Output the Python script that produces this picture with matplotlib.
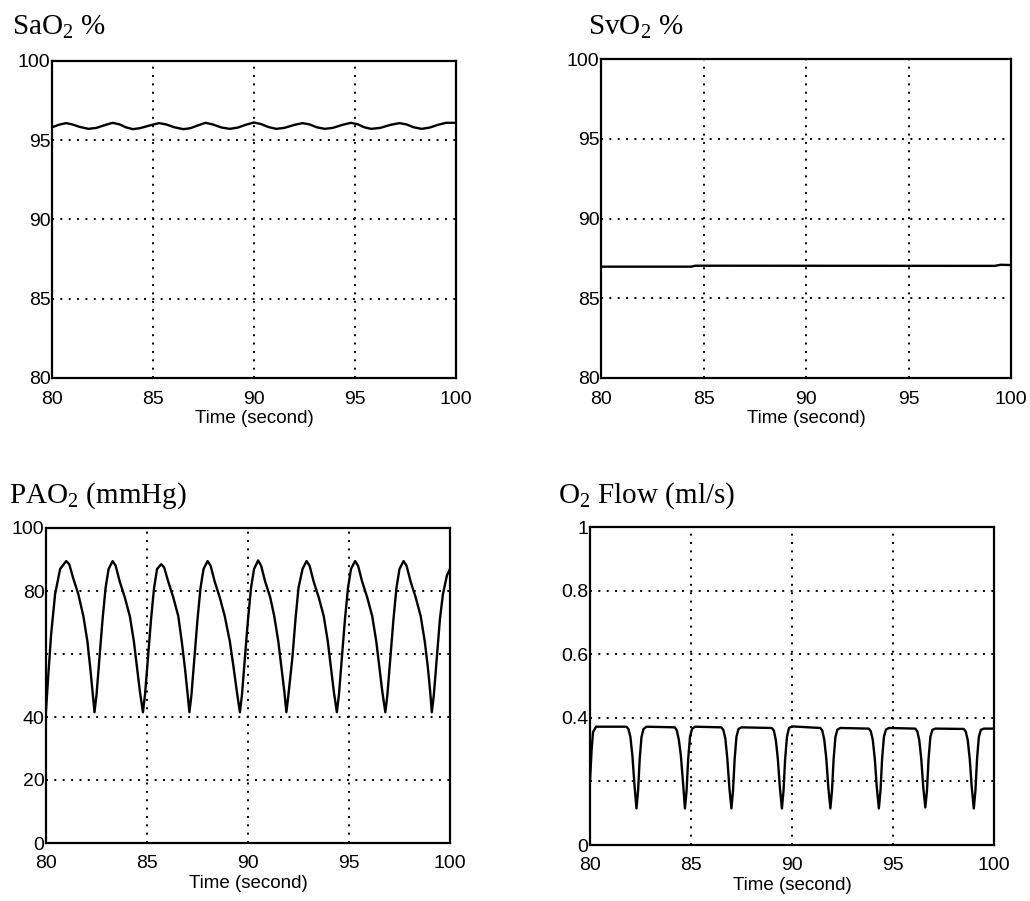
import matplotlib
matplotlib.use("Agg")
import matplotlib.pyplot as plt

plt.rcParams['font.family'] = ['Liberation Sans', 'DejaVu Sans']
plt.rcParams['mathtext.fontset'] = 'custom'
plt.rcParams['mathtext.rm'] = 'Liberation Serif'

# (time, value) pairs
sao2 = [(80.0, 95.82), (80.35, 95.98), (80.7, 96.08), (81.0, 96.0), (81.35, 95.85),
        (81.8, 95.72), (82.2, 95.78), (82.6, 95.95), (83.0, 96.1), (83.35, 96.0),
        (83.65, 95.82), (84.0, 95.7), (84.35, 95.76), (84.8, 95.92), (85.3, 96.08),
        (85.65, 96.0), (86.05, 95.82), (86.5, 95.7), (86.85, 95.76), (87.25, 95.95),
        (87.6, 96.1), (87.95, 96.0), (88.4, 95.8), (88.8, 95.72), (89.2, 95.8),
        (89.6, 95.98), (90.0, 96.12), (90.35, 96.02), (90.7, 95.84), (91.1, 95.72),
        (91.5, 95.78), (92.0, 95.97), (92.4, 96.08), (92.75, 96.0), (93.1, 95.82),
        (93.5, 95.72), (93.9, 95.78), (94.4, 95.98), (94.8, 96.1), (95.15, 96.0),
        (95.45, 95.82), (95.8, 95.72), (96.25, 95.78), (96.75, 95.97), (97.2, 96.08),
        (97.55, 96.0), (97.9, 95.82), (98.3, 95.72), (98.7, 95.8), (99.1, 95.97),
        (99.5, 96.1), (100.0, 96.1)]

svo2 = [(80.0, 86.98), (84.4, 86.98), (84.6, 87.04), (99.2, 87.03), (99.5, 87.1), (100.0, 87.08)]

pao2 = [(80.0, 42), (80.1, 52), (80.25, 66), (80.45, 79), (80.7, 87), (81.0, 89.5),
        (81.15, 88.5), (81.35, 84), (81.6, 79), (81.85, 72), (82.05, 64), (82.2, 55), (82.32, 47), (82.4, 41.5),
        (82.5, 47), (82.65, 59), (82.8, 71), (82.95, 81), (83.1, 87), (83.3, 89.5),
        (83.45, 88), (83.65, 83), (83.9, 78), (84.15, 72), (84.35, 64), (84.5, 56), (84.65, 48), (84.8, 41.5),
        (84.9, 47), (85.05, 59), (85.2, 71), (85.35, 81), (85.5, 87), (85.7, 88.5),
        (85.85, 87.5), (86.05, 83), (86.3, 78), (86.55, 72), (86.72, 64), (86.87, 56), (87.0, 48), (87.1, 41.5),
        (87.2, 47), (87.35, 59), (87.5, 71), (87.65, 81), (87.8, 87), (88.0, 89.5),
        (88.15, 88), (88.35, 83), (88.6, 78), (88.85, 72), (89.1, 64), (89.28, 56), (89.45, 48), (89.6, 41.5),
        (89.7, 47), (89.85, 59), (90.0, 71), (90.15, 81), (90.3, 87), (90.5, 89.7),
        (90.65, 88), (90.85, 83), (91.1, 78), (91.3, 72), (91.5, 64), (91.65, 56), (91.8, 48), (91.9, 41.5),
        (92.0, 47), (92.2, 59), (92.35, 71), (92.5, 81), (92.7, 87), (92.9, 89.5),
        (93.05, 88), (93.25, 83), (93.5, 78), (93.75, 72), (93.95, 64), (94.1, 56), (94.25, 48), (94.4, 41.5),
        (94.5, 47), (94.65, 59), (94.8, 71), (94.95, 81), (95.1, 87), (95.3, 89.5),
        (95.45, 88), (95.65, 83), (95.9, 78), (96.15, 72), (96.35, 64), (96.5, 56), (96.65, 48), (96.8, 41.5),
        (96.9, 47), (97.05, 59), (97.2, 71), (97.35, 81), (97.5, 87), (97.7, 89.5),
        (97.85, 88), (98.05, 83), (98.3, 78), (98.55, 72), (98.75, 64), (98.9, 56), (99.02, 48), (99.1, 41.5),
        (99.2, 47), (99.35, 59), (99.5, 71), (99.65, 79), (99.85, 85), (100.0, 87)]

o2flow = [(80.0, 0.2), (80.08, 0.3), (80.15, 0.355), (80.3, 0.372),
          (81.8, 0.372), (81.9, 0.365), (82.0, 0.34), (82.1, 0.28), (82.2, 0.19), (82.3, 0.115),
          (82.38, 0.17), (82.46, 0.27), (82.55, 0.34), (82.65, 0.365), (82.8, 0.372),
          (84.2, 0.37), (84.3, 0.36), (84.4, 0.33), (84.5, 0.28), (84.6, 0.2), (84.7, 0.115),
          (84.78, 0.17), (84.86, 0.27), (84.95, 0.34), (85.05, 0.365), (85.2, 0.372),
          (86.5, 0.37), (86.6, 0.362), (86.7, 0.335), (86.8, 0.27), (86.9, 0.18), (87.0, 0.115),
          (87.08, 0.17), (87.16, 0.27), (87.25, 0.34), (87.35, 0.365), (87.5, 0.37),
          (89.0, 0.368), (89.1, 0.36), (89.2, 0.33), (89.3, 0.27), (89.4, 0.18), (89.5, 0.115),
          (89.58, 0.17), (89.66, 0.27), (89.75, 0.34), (89.85, 0.368), (90.0, 0.373),
          (91.4, 0.368), (91.5, 0.36), (91.6, 0.33), (91.7, 0.27), (91.8, 0.18), (91.9, 0.115),
          (91.98, 0.17), (92.06, 0.27), (92.15, 0.34), (92.25, 0.363), (92.4, 0.368),
          (93.8, 0.366), (93.9, 0.358), (94.0, 0.33), (94.1, 0.27), (94.2, 0.18), (94.3, 0.115),
          (94.38, 0.17), (94.46, 0.27), (94.55, 0.34), (94.65, 0.363), (94.8, 0.368),
          (96.1, 0.366), (96.2, 0.358), (96.3, 0.33), (96.4, 0.27), (96.5, 0.18), (96.6, 0.118),
          (96.68, 0.17), (96.76, 0.27), (96.85, 0.34), (96.95, 0.362), (97.1, 0.366),
          (98.5, 0.365), (98.6, 0.357), (98.7, 0.33), (98.8, 0.27), (98.9, 0.18), (99.0, 0.115),
          (99.08, 0.17), (99.16, 0.27), (99.25, 0.34), (99.35, 0.362), (99.5, 0.366), (100.0, 0.366)]

xticks = [80, 85, 90, 95, 100]
panels = [
    (sao2, r'SaO$_\mathrm{2}$ %', [80, 85, 90, 95, 100], ['80', '85', '90', '95', '100']),
    (svo2, r'SvO$_\mathrm{2}$ %', [80, 85, 90, 95, 100], ['80', '85', '90', '95', '100']),
    (pao2, r'PAO$_\mathrm{2}$ (mmHg)', [0, 20, 40, 60, 80, 100], ['0', '20', '40', '', '80', '100']),
    (o2flow, r'O$_\mathrm{2}$ Flow (ml/s)', [0, 0.2, 0.4, 0.6, 0.8, 1], ['0', '', '0.4', '0.6', '0.8', '1']),
]

# axes boxes in pixels: left, top, right, bottom
boxes = [(52, 61, 456, 378), (601, 59, 1011, 378), (46, 528, 450, 843), (590, 527, 994, 845)]
title_pos = [(12, 34), (588, 34), (9, 503), (558, 503)]

W, H = 1030, 901
fig = plt.figure(figsize=(W / 100, H / 100), dpi=100)

for (data, title, yt, ytl), (l, t, r, b), (tx, ty) in zip(panels, boxes, title_pos):
    ax = fig.add_axes([l / W, 1 - b / H, (r - l) / W, (b - t) / H])
    xs = [p[0] for p in data]
    ys = [p[1] for p in data]
    ax.plot(xs, ys, color='black', lw=1.7)
    ax.set_xlim(80, 100)
    ax.set_ylim(yt[0], yt[-1])
    ax.set_xticks(xticks)
    ax.set_yticks(yt)
    ax.set_yticklabels(ytl)
    ax.grid(True, color='black', lw=1.4, linestyle=(0, (1, 3.3)))
    ax.tick_params(direction='in', length=0, labelsize=14)
    ax.tick_params(axis='y', pad=1)
    ax.tick_params(axis='x', pad=9)
    for s in ax.spines.values():
        s.set_linewidth(1.6)
    ax.set_xlabel('Time (second)', fontsize=13.5, labelpad=2)
    fig.text(tx / W, 1 - ty / H, title, fontsize=21, family='Liberation Serif',
             va='baseline', ha='left')

fig.savefig('out.png', dpi=100)
